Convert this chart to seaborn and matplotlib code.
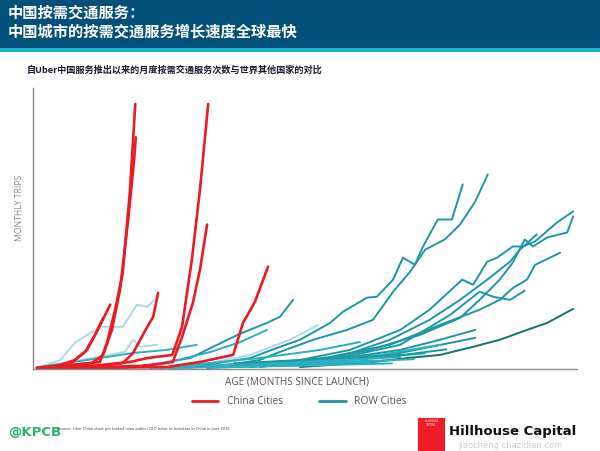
import numpy as np
import pandas as pd
import matplotlib
matplotlib.use("Agg")
import matplotlib.pyplot as plt
from matplotlib.lines import Line2D
from matplotlib.patches import Rectangle
import seaborn as sns

sns.set_theme(style="white")
plt.rcParams['font.family'] = ['Noto Sans CJK SC', 'DejaVu Sans']

# ---------------- data (months since launch, monthly trips, arbitrary units) -------------
china_months = [
    [0.7, 5.0, 8.6, 12.3, 13.6, 15.1, 16.5, 17.8, 18.8],
    [1.3, 6.8, 10.8, 12.9, 14.5, 16.0, 17.5, 18.6, 18.9],
    [0.7, 5.0, 7.7, 9.9, 11.9, 14.2],
    [2.2, 6.8, 9.6, 11.4, 12.9],
    [5.0, 12.3, 16.5, 18.4, 21.0, 22.1, 23.0],
    [5.0, 12.3, 17.8, 21.0, 25.6, 27.4, 29.2, 30.7, 32.2],
    [12.3, 19.7, 23.3, 25.7, 27.4, 29.4, 30.7, 32.0],
    [1.3, 12.3, 24.6, 30.7, 36.8, 38.6, 40.8, 43.2],
]
china_trips = [
    [0.4, 1.1, 1.8, 2.5, 9.3, 21.1, 34.3, 62.9, 94.3],
    [0.4, 1.1, 2.1, 5.0, 13.9, 28.2, 53.2, 74.6, 82.5],
    [0.4, 1.4, 3.2, 6.8, 13.9, 22.9],
    [0.4, 1.8, 6.1, 12.1, 18.2],
    [0.4, 1.1, 2.1, 5.7, 15.0, 18.6, 27.1],
    [0.4, 1.4, 2.5, 3.9, 5.0, 15.0, 38.9, 63.9, 94.3],
    [0.7, 1.1, 1.8, 2.5, 11.4, 23.6, 35.4, 51.4],
    [0.4, 0.4, 0.7, 2.5, 5.0, 16.4, 23.9, 36.4],
]

row_months = [
    [0.7, 5.0, 7.7, 12.3, 16.5, 19.1, 21.0, 22.8],
    [0.7, 6.8, 12.3, 16.9, 18.4, 19.7, 22.8],
    [1.3, 12.3, 18.4, 24.6, 30.1],
    [21.5, 28.9, 33.1, 38.0, 43.0, 45.4, 47.8],
    [30.7, 39.9, 47.2, 52.4],
    [30.7, 39.9, 45.4, 49.1, 54.6, 57.0, 61.4, 63.2, 66.2, 68.0, 70.2, 71.7, 74.4, 77.0, 79.0],
    [34.4, 41.7, 45.4, 51.5, 57.7, 62.5, 66.2, 69.3, 72.1, 75.7, 78.5, 81.3, 83.6],
    [39.9, 49.1, 58.3, 67.5, 72.9, 78.9, 80.9, 83.5, 85.3, 88.2, 90.1, 92.3, 96.3, 99.3],
    [41.7, 52.8, 61.9, 71.1, 78.5, 82.1, 85.8, 88.2, 90.4, 91.9, 94.5, 98.2, 99.3],
    [41.7, 54.6, 65.6, 74.8, 82.1, 85.8, 88.2, 90.8, 92.3, 93.2, 96.9],
    [43.6, 56.4, 67.5, 76.7, 82.1, 84.6, 87.7, 90.4],
    [49.1, 62.5, 68.8, 74.8, 80.9, 85.8, 90.8, 94.5, 99.3],
    [43.6, 56.4, 65.6, 72.9, 78.5, 83.5, 87.7, 89.5, 92.6],
    [39.9, 54.6, 67.5, 74.8, 81.3],
    [36.2, 52.8, 67.5, 81.3],
    [30.7, 49.1, 63.8, 74.8],
    [27.0, 41.7, 52.8, 60.1],
    [21.5, 39.9, 58.3, 67.5],
    [23.3, 45.4, 62.0],
    [25.0, 40.0, 55.0, 64.0],
    [28.0, 45.0, 62.0, 70.0],
    [32.0, 50.0, 62.0],
    [35.0, 48.0, 60.0, 72.0],
    [30.0, 42.0, 58.0],
    [33.0, 50.0, 66.0],
    [37.0, 52.0, 68.0, 76.0],
    [25.0, 32.5, 38.0, 43.0],
]
row_trips = [
    [0.4, 3.2, 9.3, 15.0, 15.0, 22.9, 22.1, 25.4],
    [0.7, 2.5, 4.3, 6.1, 10.4, 7.9, 8.6],
    [0.7, 3.9, 5.7, 6.8, 8.6],
    [1.4, 3.9, 7.9, 12.5, 16.4, 18.6, 24.6],
    [1.4, 5.0, 10.4, 15.7],
    [1.1, 3.9, 7.9, 10.4, 16.4, 20.4, 25.4, 25.7, 31.8, 39.6, 37.1, 43.6, 53.2, 53.2, 65.7],
    [1.1, 3.2, 6.1, 10.4, 13.9, 17.5, 27.5, 34.6, 42.5, 46.1, 51.4, 59.6, 69.3],
    [1.1, 3.2, 6.8, 13.9, 21.1, 31.8, 30.0, 38.2, 39.6, 43.6, 43.6, 45.4, 52.1, 56.1],
    [0.7, 3.2, 6.8, 12.1, 18.2, 24.6, 31.8, 37.9, 46.1, 43.6, 46.8, 48.6, 54.3],
    [1.1, 4.3, 8.6, 15.7, 21.1, 24.6, 28.8, 31.8, 37.1, 37.9, 41.4],
    [1.1, 3.9, 8.6, 19.3, 27.5, 25.7, 24.6, 27.9],
    [0.7, 2.5, 3.9, 5.0, 7.9, 10.4, 13.9, 16.4, 21.4],
    [1.1, 4.3, 10.4, 17.5, 24.6, 31.8, 38.2, 42.5, 47.9],
    [0.7, 3.2, 6.8, 10.4, 13.9],
    [0.7, 2.5, 5.7, 11.1],
    [0.7, 2.5, 5.0, 8.6],
    [1.1, 3.9, 6.8, 9.6],
    [0.4, 1.8, 3.2, 4.3],
    [0.4, 1.4, 2.5],
    [0.3, 1.0, 2.0, 2.8],
    [0.5, 1.5, 2.8, 3.5],
    [0.3, 1.8, 3.0],
    [1.5, 2.5, 3.8, 5.5],
    [0.8, 2.2, 4.0],
    [0.6, 1.2, 2.0],
    [2.0, 3.5, 5.0, 7.0],
    [2.5, 6.0, 9.5, 13.9],
]
row_shades = ["pale", "pale", "mid", "main", "pale",
              "main", "main", "main", "main", "main", "main", "dark", "main",
              "main", "main", "mid", "mid", "mid", "mid", "mid",
              "mid", "mid", "mid", "mid", "mid", "main", "mid"]

legend_labels = ["China Cities", "ROW Cities"]

# ---------------- build long table ----------------
shade_colors = {"pale": "#a9dbe5", "mid": "#2bb0c1", "main": "#1c97a3", "dark": "#16706f"}
red = "#ea1b22"
rows = []
palette = {}
for i, (m, t) in enumerate(zip(row_months, row_trips)):
    name = f"row{i}"
    palette[name] = shade_colors[row_shades[i]]
    for a, b in zip(m, t):
        rows.append((name, "ROW", a, b))
for i, (m, t) in enumerate(zip(china_months, china_trips)):
    name = f"cn{i}"
    palette[name] = red
    for a, b in zip(m, t):
        rows.append((name, "China", a, b))
df = pd.DataFrame(rows, columns=["city", "group", "month", "trips"])

# ---------------- figure ----------------
fig = plt.figure(figsize=(6.0, 4.51), dpi=100)
fig.patch.set_facecolor("white")

# header band
fig.patches.append(Rectangle((0, 1 - 48 / 451), 1, 48 / 451, transform=fig.transFigure,
                             facecolor="#03507b", edgecolor="none", zorder=0))
fig.patches.append(Rectangle((0, 1 - 52 / 451), 1, 4 / 451, transform=fig.transFigure,
                             facecolor="#19b4cc", edgecolor="none", zorder=0))
fig.text(8 / 600, 1 - 13 / 451, "中国按需交通服务：", color="white", fontsize=11,
         fontweight="bold", va="center", ha="left")
fig.text(8 / 600, 1 - 32 / 451, "中国城市的按需交通服务增长速度全球最快", color="white",
         fontsize=11, fontweight="bold", va="center", ha="left")
fig.text(27 / 600, 1 - 70 / 451, "自Uber中国服务推出以来的月度按需交通服务次数与世界其他国家的对比",
         color="#1a1a2e", fontsize=6.6, fontweight="bold", va="center", ha="left")

ax = fig.add_axes([33 / 600, 1 - 369 / 451, (577 - 33) / 600, (369 - 88) / 451])
ax.set_facecolor("white")

order_row = [f"row{i}" for i in range(len(row_months))]
order_cn = [f"cn{i}" for i in range(len(china_months))]
sns.lineplot(data=df[df.group == "ROW"], x="month", y="trips", hue="city", hue_order=order_row,
             palette=palette, estimator=None, sort=False, legend=False, linewidth=1.4, ax=ax)
sns.lineplot(data=df[df.group == "China"], x="month", y="trips", hue="city", hue_order=order_cn,
             palette=palette, estimator=None, sort=False, legend=False, linewidth=1.9, ax=ax)

ax.set_xlim(0, 100)
ax.set_ylim(0, 100)
ax.set_xticks([])
ax.set_yticks([])
ax.set_xlabel("")
ax.set_ylabel("")
for s in ["top", "right"]:
    ax.spines[s].set_visible(False)
for s in ["left", "bottom"]:
    ax.spines[s].set_color("#8c8c8c")
    ax.spines[s].set_linewidth(1.0)

fig.text(20 / 600, 1 - 208 / 451, "MONTHLY TRIPS", rotation=90, color="#8a8a8a", fontsize=6.2,
         va="center", ha="center", family=["Open Sans", "DejaVu Sans"])
fig.text(297 / 600, 1 - 382 / 451, "AGE (MONTHS SINCE LAUNCH)", color="#555555", fontsize=7.2,
         va="center", ha="center", family=["Open Sans", "DejaVu Sans"])

handles = [Line2D([], [], color=red, lw=2), Line2D([], [], color="#1c97a3", lw=2)]
fig.legend(handles, legend_labels, loc="center", bbox_to_anchor=(299 / 600, 1 - 402 / 451),
           ncol=2, frameon=False, fontsize=7.4, handlelength=2.6, columnspacing=3.5,
           handletextpad=0.8, labelcolor="#555555",
           prop={"family": ["Open Sans", "DejaVu Sans"], "size": 7.4})

# footer
fig.text(8 / 600, 1 - 433 / 451, "@KPCB", color="#2bb36b", fontsize=9.5, fontweight="bold",
         va="center", ha="left", family=["DejaVu Sans"])
fig.text(58 / 600, 1 - 429 / 451,
         "Source: Uber China chart per leaked (now public) CEO letter to investors in China in June 2015",
         color="#444444", fontsize=2.6, va="center", ha="left", family=["DejaVu Sans"])
fig.patches.append(Rectangle((418 / 600, 0), 27 / 600, 33 / 451, transform=fig.transFigure,
                             facecolor="#ee1c24", edgecolor="none"))
fig.text(431.5 / 600, 1 - 423 / 451, "HILLHOUSE\nCAPITAL", color="white", fontsize=1.8,
         va="center", ha="center", family=["DejaVu Sans"], linespacing=1.2)
fig.text(449 / 600, 1 - 431 / 451, "Hillhouse Capital", color="#111111", fontsize=9.5,
         fontweight="bold", va="center", ha="left", family=["DejaVu Sans"])
fig.text(510 / 600, 1 - 446 / 451, "jiaocheng.chazidian.com", color="#cfcfcf", fontsize=6,
         va="center", ha="center", family=["DejaVu Sans"])

fig.savefig("out.png", dpi=100, facecolor="white")
